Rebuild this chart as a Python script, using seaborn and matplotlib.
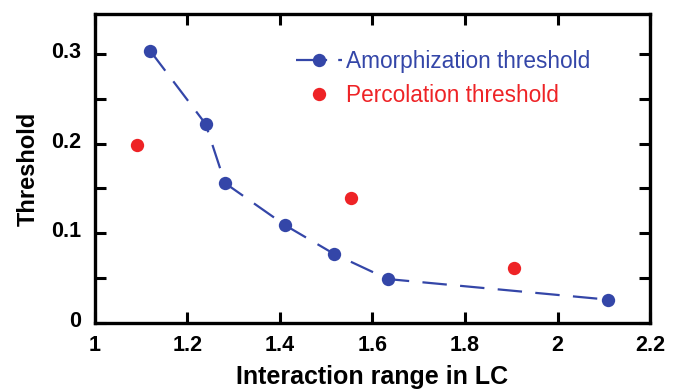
import matplotlib
matplotlib.use("Agg")
import matplotlib.pyplot as plt
import matplotlib.transforms as mtransforms
import seaborn as sns
import pandas as pd
from matplotlib.lines import Line2D

amor_x = [1.12, 1.239, 1.281, 1.411, 1.517, 1.633, 2.110]
amor_y = [0.303, 0.222, 0.156, 0.109, 0.077, 0.049, 0.026]
perc_x = [1.091, 1.554, 1.905]
perc_y = [0.198, 0.139, 0.061]
x_ticks = [1, 1.2, 1.4, 1.6, 1.8, 2, 2.2]
x_tick_labels = ["1", "1.2", "1.4", "1.6", "1.8", "2", "2.2"]
y_ticks = [0, 0.1, 0.2, 0.3]
y_tick_labels = ["0", "0.1", "0.2", "0.3"]
y_minor = [0.05, 0.15, 0.25]

blue = "#3446a8"
red = "#ee2326"

sns.set_style("white")
plt.rcParams['font.family'] = ['Liberation Sans', 'DejaVu Sans']
plt.rcParams['text.color'] = 'black'
plt.rcParams['axes.labelcolor'] = 'black'
plt.rcParams['xtick.color'] = 'black'
plt.rcParams['ytick.color'] = 'black'

fig = plt.figure(figsize=(6.79, 3.9), dpi=100)
ax = fig.add_axes([0.1399, 0.1718, 0.9573 - 0.1399, 0.9641 - 0.1718])

df_a = pd.DataFrame({"x": amor_x, "y": amor_y})
df_p = pd.DataFrame({"x": perc_x, "y": perc_y})

dash = (0, (11, 6))
sns.lineplot(data=df_a, x="x", y="y", ax=ax, color=blue, lw=1.6,
             marker="o", markersize=9.6, markeredgewidth=0, sort=False,
             dashes=False, linestyle=dash)
sns.scatterplot(data=df_p, x="x", y="y", ax=ax, color=red, s=92, linewidth=0)

ax.set_xlim(1, 2.2)
ax.set_ylim(0, 0.3445)
ax.set_xticks(x_ticks)
ax.set_xticklabels(x_tick_labels, fontsize=15.5, fontweight="bold")
ax.set_yticks(y_ticks)
ax.set_yticklabels(y_tick_labels, fontsize=15.5, fontweight="bold")
ax.set_yticks(y_minor, minor=True)
ax.tick_params(which="both", direction="in", length=8, width=2.2,
               top=True, right=True, left=True, bottom=True,
               colors="black")
ax.tick_params(axis="y", pad=10)
ax.tick_params(axis="x", pad=9)
offset = mtransforms.ScaledTranslation(0, 4 / 100, fig.dpi_scale_trans)
for lab in ax.get_yticklabels():
    lab.set_transform(lab.get_transform() + offset)
for s in ax.spines.values():
    s.set_linewidth(2.4)
    s.set_color("black")
    s.set_visible(True)

ax.set_xlabel("Interaction range in LC", fontsize=18, fontweight="bold")
ax.set_ylabel("Threshold", fontsize=17, fontweight="bold")
ax.xaxis.set_label_coords(0.5, -0.135)
ax.yaxis.set_label_coords(-0.10, 0.5)

handles = [Line2D([], [], color=blue, lw=1.6, marker="o", markersize=9.6,
                  markeredgewidth=0, linestyle=(0, (14, 5))),
           Line2D([], [], color=red, lw=0, marker="o", markersize=9.6,
                  markeredgewidth=0)]
leg = ax.legend(handles, ["Amorphization threshold", "Percolation threshold"],
                frameon=False, fontsize=16.3, loc="upper left",
                bbox_to_anchor=(0.362, 0.885), borderpad=0, borderaxespad=0,
                handlelength=2.03, handletextpad=0.2, labelspacing=0.5)
for t, c in zip(leg.get_texts(), [blue, red]):
    t.set_color(c)

fig.savefig("out.png", dpi=100)
